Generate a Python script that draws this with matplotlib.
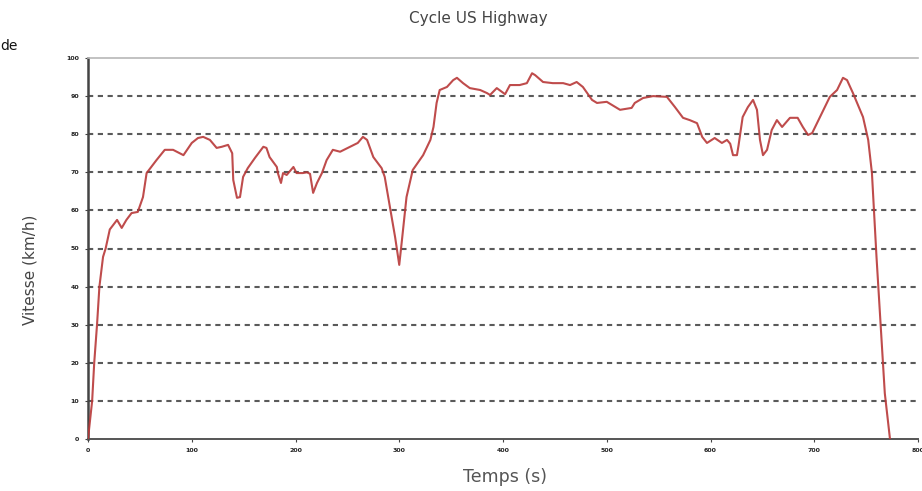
import matplotlib.pyplot as plt

# US Highway driving cycle (HWFET), speed vs time
temps = [0, 2, 4, 6, 8.7, 11, 14.5, 17, 21, 28, 32.5, 37, 42, 48, 53, 56.5, 66, 74, 82, 92,
         100, 106, 111, 117.5, 124, 129, 135, 139, 140, 143.6, 146.5, 149.5, 154, 161, 169, 172,
         175, 182, 183, 186, 188, 191.5, 198, 201, 207, 211, 214, 217, 220.7, 225.5, 230, 236,
         243, 252.5, 260, 265, 269, 275, 283, 286, 291, 296, 300, 302.6, 307, 313, 323, 330,
         333, 336, 339, 346, 352, 355.6, 361.5, 368, 378, 384.5, 387.5, 394, 399, 402, 406.7,
         416, 423, 428, 431, 438.6, 448, 458, 464.6, 471, 477, 485.8, 490.6, 500, 512.8, 524,
         527, 535, 544.6, 558, 565.8, 573.5, 580, 587, 592, 596.6, 604, 611, 615.9, 619,
         621.7, 625.5, 627, 631, 636, 641, 644.8, 647.7, 650.6, 654.5, 659, 664, 669, 676.6,
         684, 689, 694, 698, 705.5, 715, 722, 727.7, 731.6, 737.3, 747, 752, 755.6, 757, 760,
         764, 768, 773]
vitesse = [0, 5, 10, 20, 30, 40, 47.8, 50, 55, 57.5, 55.4, 57.5, 59.3, 59.6, 63.5, 69.8, 73.2,
           75.9, 75.9, 74.5, 77.7, 79, 79.3, 78.5, 76.4, 76.7, 77.2, 75, 68, 63.3, 63.5, 68.8,
           71.1, 73.8, 76.7, 76.4, 74, 71.4, 69.8, 67.2, 69.8, 69.3, 71.4, 69.8, 69.8, 70, 69.6,
           64.6, 67.2, 69.8, 73.2, 75.9, 75.4, 76.7, 77.7, 79.3, 78.5, 74, 71.1, 68.8, 60.9, 53,
           45.7, 52.2, 63.5, 70.6, 74.5, 78.5, 81.9, 88.2, 91.6, 92.4, 94.2, 94.8, 93.4, 92.1,
           91.6, 90.8, 90.3, 92.1, 91.1, 90.5, 92.9, 92.9, 93.4, 96, 95.5, 93.7, 93.4, 93.4, 92.9,
           93.7, 92.4, 89, 88.2, 88.5, 86.4, 86.9, 88.2, 89.5, 90, 89.8, 87.1, 84.3, 83.7, 82.9,
           79.3, 77.7, 79, 77.7, 78.5, 77.5, 74.5, 74.5, 77, 84.5, 87.1, 89, 86.4, 78.5, 74.5,
           75.9, 81.1, 83.7, 81.9, 84.3, 84.3, 81.9, 79.8, 80.3, 84.5, 89.8, 91.6, 94.8, 94.2,
           90.8, 84.5, 78.5, 69.8, 62.7, 47.8, 30, 12, 0]

x_ticks = [0, 100, 200, 300, 400, 500, 600, 700, 800]
y_ticks = [0, 10, 20, 30, 40, 50, 60, 70, 80, 90, 100]

fig = plt.figure(figsize=(9.22, 4.91), dpi=100)
ax = fig.add_axes([88 / 922, 52 / 491, 830 / 922, 381 / 491])

# dashed horizontal grid
for y in y_ticks[1:-1]:
    ax.axhline(y, color="#5a5a5a", linestyle=(0, (2.5, 2.2)), linewidth=1.5, zorder=1)

ax.plot(temps, vitesse, color="#b83838", linewidth=1.5, alpha=0.9, zorder=3)

ax.set_xlim(0, 800)
ax.set_ylim(0, 100)
ax.set_xticks(x_ticks)
ax.set_yticks(y_ticks)
ax.tick_params(axis="both", labelsize=4.5, length=2.5, width=0.8, color="#444444",
               labelcolor="#222222", pad=4)
for lbl in ax.get_xticklabels() + ax.get_yticklabels():
    lbl.set_fontweight("bold")
ax.get_xticklabels()[-1].set_clip_on(False)

ax.spines["left"].set_color("#444444")
ax.spines["left"].set_linewidth(1.8)
ax.spines["bottom"].set_color("#555555")
ax.spines["bottom"].set_linewidth(1.4)
ax.spines["top"].set_color("#b8b8b8")
ax.spines["top"].set_linewidth(1.2)
ax.spines["right"].set_visible(False)

fig.text(478 / 922, 1 - 18 / 491, "Cycle US Highway", ha="center", va="center",
         fontsize=11, color="#444444")
fig.text(505 / 922, 1 - 477 / 491, "Temps (s)", ha="center", va="center",
         fontsize=12.5, color="#555555")
fig.text(30 / 922, 1 - 270 / 491, "Vitesse (km/h)", ha="center", va="center",
         rotation=90, fontsize=11, color="#444444")
fig.text(0.0, 1 - 46 / 491, "de", ha="left", va="center", fontsize=10, color="#111111")

fig.savefig("out.png", dpi=100)
